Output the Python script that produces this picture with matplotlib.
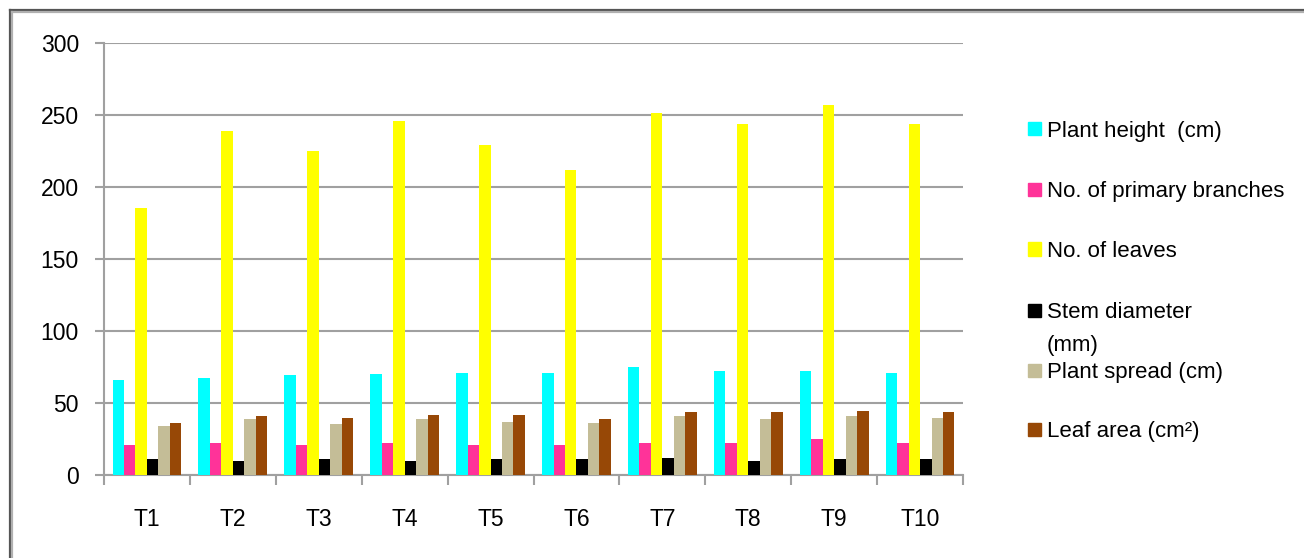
import numpy as np
import matplotlib.pyplot as plt
from matplotlib.lines import Line2D
from matplotlib.patches import Rectangle
from matplotlib.ticker import FixedLocator, NullFormatter

plt.rcParams['font.family'] = ['Liberation Sans', 'DejaVu Sans']

treatments = ['T1', 'T2', 'T3', 'T4', 'T5', 'T6', 'T7', 'T8', 'T9', 'T10']
plant_height = [66.3, 67.4, 69.2, 70.1, 71.1, 71.1, 74.8, 72.0, 72.0, 71.1]
primary_branches = [21.1, 22.0, 21.1, 22.0, 21.1, 21.1, 22.0, 22.0, 24.8, 22.0]
no_of_leaves = [185.2, 239.2, 225.0, 245.8, 229.0, 211.6, 251.4, 244.0, 257.2, 244.0]
stem_diameter = [10.9, 9.7, 10.9, 9.7, 10.9, 10.9, 11.6, 9.7, 10.9, 10.9]
plant_spread = [34.3, 38.9, 35.2, 38.9, 37.1, 36.1, 40.8, 38.9, 40.8, 39.9]
leaf_area = [36.4, 40.8, 39.9, 41.7, 41.7, 38.9, 43.8, 43.8, 44.7, 43.8]

series = [plant_height, primary_branches, no_of_leaves,
          stem_diameter, plant_spread, leaf_area]
labels = ['Plant height  (cm)', 'No. of primary branches', 'No. of leaves',
          'Stem diameter\n(mm)', 'Plant spread (cm)', 'Leaf area (cm\u00b2)']
colors = ['#00FFFF', '#FF3399', '#FFFF00', '#000000', '#C4BD97', '#974806']

W, H = 1304, 558
fig = plt.figure(figsize=(W / 100, H / 100), dpi=100)
ax = fig.add_axes([104 / W, 1 - 475 / H, (963 - 104) / W, (475 - 43) / H])

# grouped bars, six per treatment
x = np.arange(len(treatments))
bw = 0.8 / len(series)
for k, (vals, c) in enumerate(zip(series, colors)):
    ax.bar(x - 0.4 + bw * (k + 0.5), vals, width=bw, color=c,
           linewidth=0, zorder=3)

grid_c = '#a0a0a0'
ax.set_xlim(-0.5, len(treatments) - 0.5)
ax.set_ylim(0, 300)
ax.set_yticks(np.arange(0, 301, 50))
ax.yaxis.grid(True, color=grid_c, linewidth=1.5, zorder=0)
ax.set_xticks(x)
ax.set_xticklabels(treatments)
ax.xaxis.set_minor_locator(FixedLocator(np.arange(-0.5, len(treatments), 1.0)))
ax.xaxis.set_minor_formatter(NullFormatter())
ax.tick_params(axis='x', which='major', length=0, pad=24, labelsize=16.5)
ax.tick_params(axis='x', which='minor', length=7.2, width=1.5, color=grid_c)
ax.tick_params(axis='y', length=6.5, width=1.5, color=grid_c, pad=11.5,
               labelsize=16.5)
for side in ['top', 'right']:
    ax.spines[side].set_visible(False)
for side in ['left', 'bottom']:
    ax.spines[side].set_color(grid_c)
    ax.spines[side].set_linewidth(1.5)

# legend drawn row by row on the right, key aligned with the first text line
rows = [129, 189, 249, 310, 370, 429]
for yc, lab, c in zip(rows, labels, colors):
    fig.patches.append(Rectangle((1028 / W, 1 - (yc + 6.5) / H), 13 / W, 13 / H,
                                 transform=fig.transFigure, color=c))
    fig.text(1047 / W, 1 - (yc - 8) / H, lab, fontsize=16, va='top',
             ha='left', linespacing=1.72, transform=fig.transFigure)

# chart frame along the top and left
for off, col in [(10, '#555555'), (12, '#b0b0b0')]:
    fig.add_artist(Line2D([off / W, 1], [1 - off / H, 1 - off / H],
                          transform=fig.transFigure, color=col, linewidth=1.6))
    fig.add_artist(Line2D([off / W, off / W], [1 - off / H, 0],
                          transform=fig.transFigure, color=col, linewidth=1.6))

fig.savefig('out.png', dpi=100)
